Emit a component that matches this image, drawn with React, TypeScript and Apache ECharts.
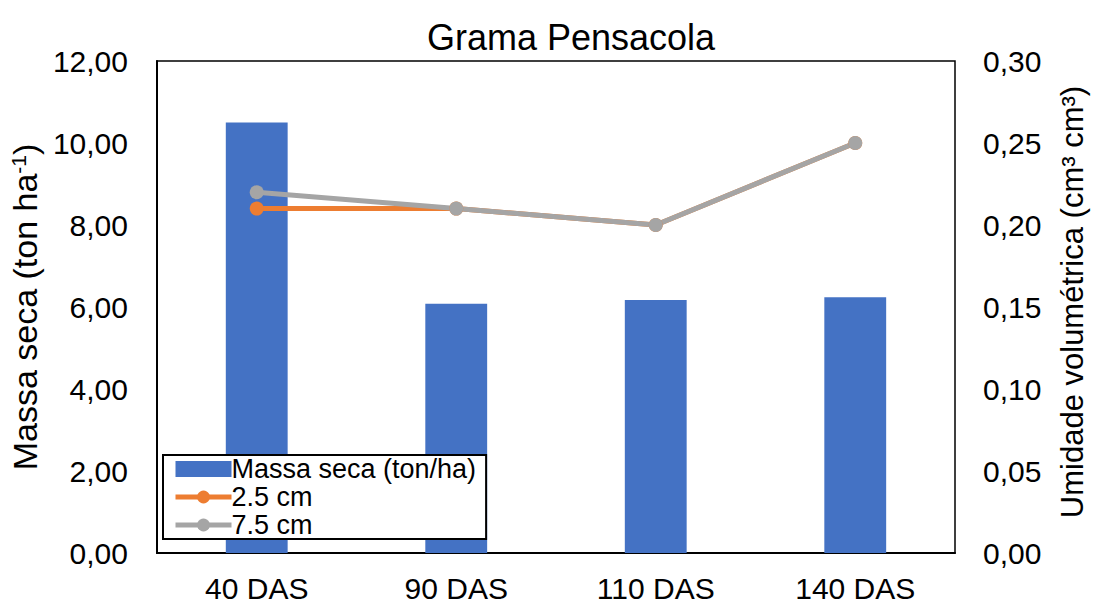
import React, { useEffect, useRef } from "react";
import * as echarts from "echarts";

// Sampling dates and the measured values
const categories = ["40 DAS", "90 DAS", "110 DAS", "140 DAS"];
const massaSeca = [10.5, 6.08, 6.17, 6.24];
const umidade25 = [0.21, 0.21, 0.2, 0.25];
const umidade75 = [0.22, 0.21, 0.2, 0.25];

const leftTicks = { min: 0, max: 12, interval: 2 };
const rightTicks = { min: 0, max: 0.3, interval: 0.05 };

const FONT = "'Liberation Sans', Arial, sans-serif";
const comma = (v: number) => v.toFixed(2).replace(".", ",");

export default function App() {
  const ref = useRef<HTMLDivElement>(null);

  useEffect(() => {
    if (!ref.current) return;
    const chart = echarts.init(ref.current, undefined, { renderer: "svg" });
    chart.setOption({
      animation: false,
      backgroundColor: "#ffffff",
      textStyle: { fontFamily: FONT, color: "#000" },
      title: {
        text: "Grama Pensacola",
        left: 566,
        top: 14,
        textAlign: "center",
        textStyle: { fontFamily: FONT, fontSize: 36, fontWeight: "normal", color: "#000" },
      },
      grid: {
        left: 156,
        right: 136,
        top: 61,
        bottom: 53,
        show: true,
        borderColor: "#000",
        borderWidth: 1.5,
        backgroundColor: "transparent",
      },
      legend: {
        orient: "vertical",
        left: 163,
        top: 455,
        padding: [0, 10, 0, 10],
        itemGap: 0,
        itemWidth: 56,
        itemHeight: 16,
        backgroundColor: "#fff",
        borderColor: "#000",
        borderWidth: 2,
        textStyle: { fontFamily: FONT, fontSize: 27, color: "#000", lineHeight: 28, padding: [0, 0, 0, -5] },
        data: [
          { name: "Massa seca (ton/ha)", icon: "rect" },
          { name: "2.5 cm", lineStyle: { width: 5 } },
          { name: "7.5 cm", lineStyle: { width: 5 } },
        ],
      },
      xAxis: {
        type: "category",
        data: categories,
        axisLine: { lineStyle: { color: "#000", width: 2 } },
        axisTick: { show: false },
        axisLabel: { fontFamily: FONT, fontSize: 30, color: "#000", margin: 20 },
      },
      yAxis: [
        {
          type: "value",
          ...leftTicks,
          position: "left",
          name: "{a|Massa seca (ton ha}{s|-1}{a|)}",
          nameLocation: "middle",
          nameRotate: 90,
          nameGap: 110,
          nameTextStyle: {
            rich: {
              a: { fontFamily: FONT, fontSize: 34, color: "#000" },
              s: { fontFamily: FONT, fontSize: 21, color: "#000", verticalAlign: "top", lineHeight: 34 },
            },
          },
          axisLine: { show: true, lineStyle: { color: "#000", width: 2 } },
          axisTick: { show: false },
          splitLine: { show: false },
          axisLabel: { fontFamily: FONT, fontSize: 30, color: "#000", margin: 29, formatter: comma },
        },
        {
          type: "value",
          ...rightTicks,
          position: "right",
          name: "Umidade volumétrica (cm³ cm³)",
          nameLocation: "middle",
          nameRotate: 90,
          nameGap: 102,
          nameTextStyle: { fontFamily: FONT, fontSize: 31, color: "#000", padding: [0, 0, 0, 10] },
          axisLine: { show: false },
          axisTick: { show: false },
          splitLine: { show: false },
          axisLabel: { fontFamily: FONT, fontSize: 30, color: "#000", margin: 28, formatter: comma },
        },
      ],
      series: [
        {
          name: "Massa seca (ton/ha)",
          type: "bar",
          yAxisIndex: 0,
          data: massaSeca,
          barWidth: "31%",
          itemStyle: { color: "#4472C4" },
        },
        {
          name: "2.5 cm",
          type: "line",
          yAxisIndex: 1,
          data: umidade25,
          symbol: "circle",
          symbolSize: 14,
          lineStyle: { color: "#ED7D31", width: 5 },
          itemStyle: { color: "#ED7D31" },
        },
        {
          name: "7.5 cm",
          type: "line",
          yAxisIndex: 1,
          data: umidade75,
          symbol: "circle",
          symbolSize: 14,
          lineStyle: { color: "#A5A5A5", width: 5 },
          itemStyle: { color: "#A5A5A5" },
        },
      ],
    });
    return () => chart.dispose();
  }, []);

  return (
    <div
      ref={ref}
      style={{ position: "absolute", left: 0, top: 0, width: 1096, height: 606 }}
    />
  );
}
